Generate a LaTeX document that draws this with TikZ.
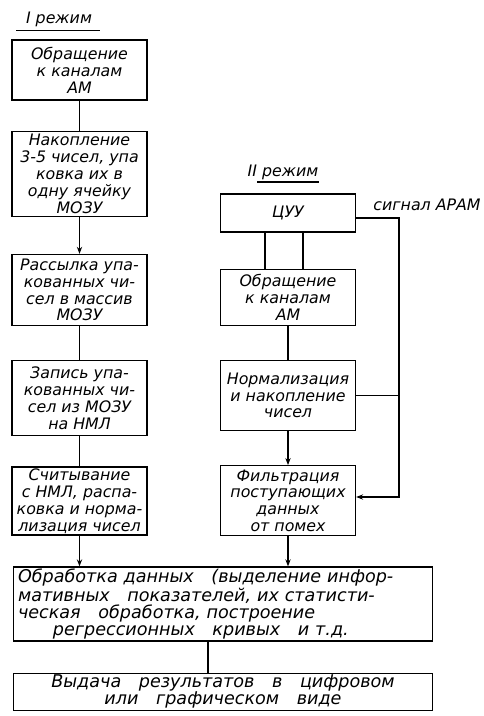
\documentclass[tikz,border=0pt]{standalone}
\usepackage{fontspec}
\setmainfont{DejaVu Sans}
\usepackage{tikz}
\usetikzlibrary{arrows.meta, positioning}

\begin{document}
\begin{tikzpicture}[
    node distance=0.6cm and 1.0cm,
    every node/.style={font=\fontsize{9}{9.6}\selectfont\itshape},
    blk/.style={rectangle, draw, line width=0.7pt, minimum width=2.7cm, inner sep=1pt, align=center},
    wide/.style={rectangle, draw, line width=0.7pt, minimum width=8.37cm, text width=8.2cm, inner xsep=2pt, inner ysep=1pt, font=\fontsize{10}{9.6}\selectfont\itshape},
    ttl/.style={inner sep=1pt, font=\fontsize{9}{10}\selectfont\itshape},
    >={Stealth[length=4pt]},
    line width=0.7pt,
]
\useasboundingbox (0,0) rectangle (9.68,-14.32);

% Mode I
\node[ttl] (tI) at (1.18,-0.38) {I режим};
\draw (0.32,-0.61) -- (2.0,-0.61);
\node[blk, minimum height=1.2cm] (obr1) at (1.59,-1.4) {Обращение\\к каналам\\АМ};
\node[blk, minimum height=1.7cm, below=0.6cm of obr1] (nak) {Накопление\\3-5 чисел, упа\\ковка их в\\одну ячейку\\МОЗУ};
\node[blk, minimum height=1.42cm, below=0.74cm of nak] (ras) {Рассылка упа-\\кованных чи-\\сел в массив\\МОЗУ};
\node[blk, minimum height=1.5cm, below=0.68cm of ras] (zap) {Запись упа-\\кованных чи-\\сел из МОЗУ\\на НМЛ};
\node[blk, minimum height=1.32cm, below=0.6cm of zap] (sch) {Считывание\\с НМЛ, распа-\\ковка и норма-\\лизация чисел};

% Mode II
\node[ttl] (tII) at (5.66,-3.45) {II режим};
\draw (5.14,-3.64) -- (6.38,-3.64);
\node[blk, minimum height=0.76cm] (cuu) at (5.76,-4.26) {ЦУУ};
\node[ttl, anchor=west] (sig) at (7.42,-4.1) {сигнал АРАМ};
\node[blk, minimum height=1.12cm, below=0.72cm of cuu] (obr2) {Обращение\\к каналам\\АМ};
\node[blk, minimum height=1.4cm, below=0.68cm of obr2] (norm) {Нормализация\\и накопление\\чисел};
\node[blk, minimum height=1.4cm, below=0.68cm of norm] (filt) {Фильтрация\\поступающих\\данных\\от помех};
\coordinate (bus) at (7.98,-9.94);

% Common part
\node[wide, minimum height=1.48cm, align=left] (obrab) at (4.46,-12.08) {Обработка данных \ \ (выделение инфор-\\мативных \ \ показателей, их статисти-\\ческая \ \ обработка, построение\\\hspace*{0.7cm}регрессионных \ \ кривых \ \ и т.д.};
\node[wide, minimum height=0.74cm, align=center, below=0.62cm of obrab] (vyd) {Выдача \ \ результатов \ \ в \ \ цифровом\\или \ \ графическом \ \ виде};

% Left flow
\draw (obr1) -- (nak);
\draw[->] (nak) -- (ras);
\draw (ras) -- (zap);
\draw (zap) -- (sch);
\draw[->] (sch.south) -- (sch.south |- obrab.north);

% Right flow
\draw ([xshift=-0.46cm]cuu.south) -- ([xshift=-0.46cm]cuu.south |- obr2.north);
\draw ([xshift=0.3cm]cuu.south) -- ([xshift=0.3cm]cuu.south |- obr2.north);
\draw (obr2) -- (norm);
\draw[->] (norm) -- (filt);
\draw[->] (filt.south) -- (filt.south |- obrab.north);
\draw[->] ([yshift=-0.1cm]cuu.east) -| (bus) -- (bus -| filt.east);
\draw (norm.east) -- (norm.east -| bus);

% Output
\draw ([xshift=-0.3cm]obrab.south) -- ([xshift=-0.3cm]obrab.south |- vyd.north);

\end{tikzpicture}
\end{document}
